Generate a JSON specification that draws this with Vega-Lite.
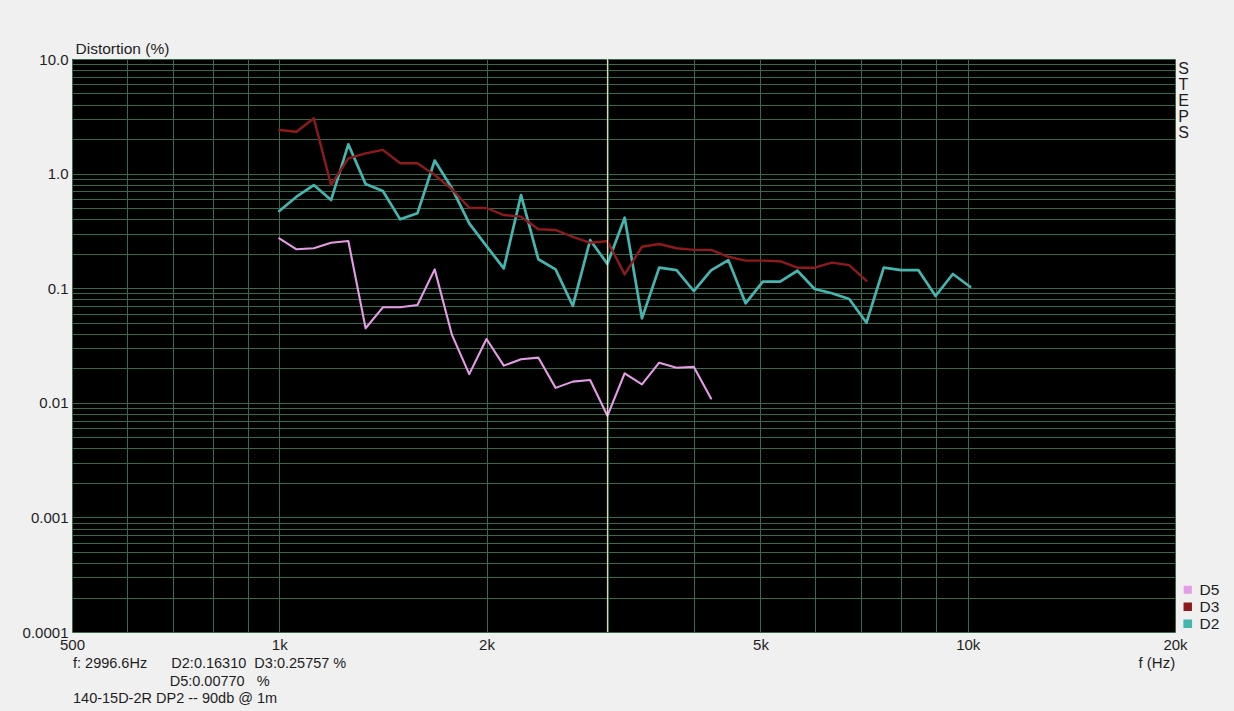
{
  "$schema": "https://vega.github.io/schema/vega-lite/v6.json",
  "width": 1103,
  "height": 573,
  "autosize": "none",
  "padding": {"left": 72, "top": 59, "right": 59, "bottom": 79},
  "background": "#f0f0f0",
  "config": {
    "font": "Liberation Sans",
    "view": {"fill": "#000000", "stroke": null}
  },
  "title": {
    "text": [
      "f: 2996.6Hz\u00a0\u00a0\u00a0\u00a0\u00a0\u00a0D2:0.16310\u00a0\u00a0D3:0.25757 %",
      "\u200b\u00a0\u00a0\u00a0\u00a0\u00a0\u00a0\u00a0\u00a0\u00a0\u00a0\u00a0\u00a0\u00a0\u00a0\u00a0\u00a0\u00a0\u00a0\u00a0\u00a0\u00a0\u00a0\u00a0\u00a0D5:0.00770\u00a0\u00a0\u00a0%",
      "140-15D-2R DP2 -- 90db @ 1m"
    ],
    "orient": "bottom",
    "anchor": "start",
    "frame": "group",
    "font": "Liberation Sans",
    "fontSize": 14.5,
    "fontWeight": "normal",
    "color": "#1e1e1e",
    "lineHeight": 17.5,
    "baseline": "alphabetic",
    "offset": 0,
    "dx": 1,
    "dy": -2
  },
  "layer": [
    {
      "data": {
        "values": [
          {"f": 1000, "d": 0.472, "s": "D2"}, {"f": 1059.5, "d": 0.629, "s": "D2"}, {"f": 1122.5, "d": 0.795, "s": "D2"},
          {"f": 1189.2, "d": 0.588, "s": "D2"}, {"f": 1259.9, "d": 1.8, "s": "D2"}, {"f": 1334.8, "d": 0.811, "s": "D2"},
          {"f": 1414.2, "d": 0.705, "s": "D2"}, {"f": 1498.3, "d": 0.399, "s": "D2"}, {"f": 1587.4, "d": 0.45, "s": "D2"},
          {"f": 1681.8, "d": 1.3, "s": "D2"}, {"f": 1781.8, "d": 0.744, "s": "D2"}, {"f": 1887.7, "d": 0.368, "s": "D2"},
          {"f": 2000, "d": 0.233, "s": "D2"}, {"f": 2118.9, "d": 0.149, "s": "D2"}, {"f": 2244.9, "d": 0.65, "s": "D2"},
          {"f": 2378.4, "d": 0.179, "s": "D2"}, {"f": 2519.8, "d": 0.146, "s": "D2"}, {"f": 2669.6, "d": 0.07, "s": "D2"},
          {"f": 2828.4, "d": 0.263, "s": "D2"}, {"f": 2996.6, "d": 0.1631, "s": "D2"}, {"f": 3174.8, "d": 0.412, "s": "D2"},
          {"f": 3363.6, "d": 0.0546, "s": "D2"}, {"f": 3563.6, "d": 0.151, "s": "D2"}, {"f": 3775.6, "d": 0.144, "s": "D2"},
          {"f": 4000, "d": 0.0945, "s": "D2"}, {"f": 4237.9, "d": 0.143, "s": "D2"}, {"f": 4489.8, "d": 0.176, "s": "D2"},
          {"f": 4756.8, "d": 0.0738, "s": "D2"}, {"f": 5039.7, "d": 0.114, "s": "D2"}, {"f": 5339.3, "d": 0.114, "s": "D2"},
          {"f": 5656.9, "d": 0.142, "s": "D2"}, {"f": 5993.2, "d": 0.0984, "s": "D2"}, {"f": 6349.6, "d": 0.0903, "s": "D2"},
          {"f": 6727.2, "d": 0.0805, "s": "D2"}, {"f": 7127.2, "d": 0.05, "s": "D2"}, {"f": 7551.0, "d": 0.151, "s": "D2"},
          {"f": 8000, "d": 0.144, "s": "D2"}, {"f": 8475.8, "d": 0.144, "s": "D2"}, {"f": 8979.7, "d": 0.0855, "s": "D2"},
          {"f": 9513.7, "d": 0.133, "s": "D2"}, {"f": 10079.4, "d": 0.103, "s": "D2"},

          {"f": 1000, "d": 2.4, "s": "D3"}, {"f": 1059.5, "d": 2.32, "s": "D3"}, {"f": 1122.5, "d": 3.04, "s": "D3"},
          {"f": 1189.2, "d": 0.795, "s": "D3"}, {"f": 1259.9, "d": 1.36, "s": "D3"}, {"f": 1334.8, "d": 1.5, "s": "D3"},
          {"f": 1414.2, "d": 1.61, "s": "D3"}, {"f": 1498.3, "d": 1.23, "s": "D3"}, {"f": 1587.4, "d": 1.23, "s": "D3"},
          {"f": 1681.8, "d": 0.972, "s": "D3"}, {"f": 1781.8, "d": 0.73, "s": "D3"}, {"f": 1887.7, "d": 0.504, "s": "D3"},
          {"f": 2000, "d": 0.501, "s": "D3"}, {"f": 2118.9, "d": 0.435, "s": "D3"}, {"f": 2244.9, "d": 0.421, "s": "D3"},
          {"f": 2378.4, "d": 0.327, "s": "D3"}, {"f": 2519.8, "d": 0.322, "s": "D3"}, {"f": 2669.6, "d": 0.281, "s": "D3"},
          {"f": 2828.4, "d": 0.249, "s": "D3"}, {"f": 2996.6, "d": 0.25757, "s": "D3"}, {"f": 3174.8, "d": 0.132, "s": "D3"},
          {"f": 3363.6, "d": 0.23, "s": "D3"}, {"f": 3563.6, "d": 0.243, "s": "D3"}, {"f": 3775.6, "d": 0.223, "s": "D3"},
          {"f": 4000, "d": 0.216, "s": "D3"}, {"f": 4237.9, "d": 0.216, "s": "D3"}, {"f": 4489.8, "d": 0.188, "s": "D3"},
          {"f": 4756.8, "d": 0.174, "s": "D3"}, {"f": 5039.7, "d": 0.174, "s": "D3"}, {"f": 5339.3, "d": 0.172, "s": "D3"},
          {"f": 5656.9, "d": 0.151, "s": "D3"}, {"f": 5993.2, "d": 0.151, "s": "D3"}, {"f": 6349.6, "d": 0.167, "s": "D3"},
          {"f": 6727.2, "d": 0.159, "s": "D3"}, {"f": 7127.2, "d": 0.116, "s": "D3"},

          {"f": 1000, "d": 0.2725, "s": "D5"}, {"f": 1059.5, "d": 0.2185, "s": "D5"}, {"f": 1122.5, "d": 0.223, "s": "D5"},
          {"f": 1189.2, "d": 0.249, "s": "D5"}, {"f": 1259.9, "d": 0.258, "s": "D5"}, {"f": 1334.8, "d": 0.0447, "s": "D5"},
          {"f": 1414.2, "d": 0.0681, "s": "D5"}, {"f": 1498.3, "d": 0.0681, "s": "D5"}, {"f": 1587.4, "d": 0.0714, "s": "D5"},
          {"f": 1681.8, "d": 0.146, "s": "D5"}, {"f": 1781.8, "d": 0.0391, "s": "D5"}, {"f": 1887.7, "d": 0.0178, "s": "D5"},
          {"f": 2000, "d": 0.036, "s": "D5"}, {"f": 2118.9, "d": 0.0211, "s": "D5"}, {"f": 2244.9, "d": 0.024, "s": "D5"},
          {"f": 2378.4, "d": 0.0248, "s": "D5"}, {"f": 2519.8, "d": 0.0135, "s": "D5"}, {"f": 2669.6, "d": 0.0153, "s": "D5"},
          {"f": 2828.4, "d": 0.0158, "s": "D5"}, {"f": 2996.6, "d": 0.0077, "s": "D5"}, {"f": 3174.8, "d": 0.0181, "s": "D5"},
          {"f": 3363.6, "d": 0.0145, "s": "D5"}, {"f": 3563.6, "d": 0.0224, "s": "D5"}, {"f": 3775.6, "d": 0.0202, "s": "D5"},
          {"f": 4000, "d": 0.0206, "s": "D5"}, {"f": 4237.9, "d": 0.0109, "s": "D5"}
        ]
      },
      "mark": {"type": "line", "strokeJoin": "round", "strokeCap": "round", "clip": true},
      "encoding": {
        "x": {
          "field": "f", "type": "quantitative",
          "scale": {"type": "log", "domain": [500, 20000], "nice": false},
          "axis": {
            "values": [500, 600, 700, 800, 900, 1000, 2000, 3000, 4000, 5000, 6000, 7000, 8000, 9000, 10000, 20000],
            "labelExpr": "datum.value == 500 ? '500' : datum.value == 1000 ? '1k' : datum.value == 2000 ? '2k' : datum.value == 5000 ? '5k' : datum.value == 10000 ? '10k' : datum.value == 20000 ? '20k' : ''",
            "grid": true, "gridColor": "#356b4a", "gridWidth": 1,
            "ticks": false, "domain": false,
            "labelFontSize": 15, "labelColor": "#1e1e1e", "labelPadding": 5,
            "labelOverlap": false, "labelFlush": false, "labelBound": false,
            "title": "f (Hz)", "titleFontSize": 15, "titleFontWeight": "normal", "titleColor": "#1e1e1e",
            "titleX": 1066, "titleY": 35, "titleAlign": "left", "titleBaseline": "alphabetic"
          }
        },
        "y": {
          "field": "d", "type": "quantitative",
          "scale": {"type": "log", "domain": [0.0001, 10], "nice": false},
          "axis": {
            "values": [0.0001, 0.0002, 0.0003, 0.0004, 0.0005, 0.0006, 0.0007, 0.0008, 0.0009,
                       0.001, 0.002, 0.003, 0.004, 0.005, 0.006, 0.007, 0.008, 0.009,
                       0.01, 0.02, 0.03, 0.04, 0.05, 0.06, 0.07, 0.08, 0.09,
                       0.1, 0.2, 0.3, 0.4, 0.5, 0.6, 0.7, 0.8, 0.9,
                       1, 2, 3, 4, 5, 6, 7, 8, 9, 10],
            "labelExpr": "datum.value == 10 ? '10.0' : datum.value == 1 ? '1.0' : datum.value == 0.1 ? '0.1' : datum.value == 0.01 ? '0.01' : datum.value == 0.001 ? '0.001' : datum.value == 0.0001 ? '0.0001' : ''",
            "grid": true, "gridColor": "#356b4a", "gridWidth": 1,
            "ticks": false, "domain": false,
            "labelFontSize": 15, "labelColor": "#1e1e1e", "labelPadding": 4,
            "labelOverlap": false, "labelFlush": false, "labelBound": false,
            "title": "Distortion (%)", "titleFontSize": 15.5, "titleFontWeight": "normal", "titleColor": "#1e1e1e",
            "titleAngle": 0, "titleX": 3, "titleY": -6, "titleAlign": "left", "titleBaseline": "alphabetic"
          }
        },
        "color": {
          "field": "s", "type": "nominal",
          "scale": {"domain": ["D5", "D3", "D2"], "range": ["#e59be5", "#8f1a1c", "#45b5b0"]},
          "legend": {
            "orient": "none", "legendX": 1108, "legendY": 523, "title": null,
            "symbolType": "square", "symbolSize": 36, "padding": 0, "rowPadding": -1.5,
            "labelFontSize": 15.5, "labelColor": "#1e1e1e", "labelOffset": 4,
            "encode": {"symbols": {"update": {"fill": {"scale": "color", "field": "value"}, "stroke": {"value": "transparent"}, "strokeWidth": {"value": 0}}}}
          }
        },
        "strokeWidth": {
          "field": "s", "type": "nominal",
          "scale": {"domain": ["D5", "D3", "D2"], "range": [2.1, 2.7, 2.1]},
          "legend": null
        }
      }
    },
    {
      "data": {"values": [{"cursor": 2996.6, "lo": 0.0001, "hi": 10}]},
      "mark": {"type": "rule", "color": "#f3eec6", "strokeWidth": 1},
      "encoding": {
        "x": {"field": "cursor", "type": "quantitative"},
        "y": {
          "field": "lo", "type": "quantitative",
          "scale": {"type": "log", "domain": [0.0001, 10], "nice": false},
          "axis": {
            "orient": "right", "labels": false, "ticks": false, "domain": false, "grid": false,
            "title": ["S", "T", "E", "P", "S"], "titleAngle": 0, "titleX": 8, "titleY": 14.5,
            "titleAlign": "center", "titleBaseline": "alphabetic", "titleFontSize": 16,
            "titleLineHeight": 16, "titleFontWeight": "normal", "titleColor": "#1e1e1e"
          }
        },
        "y2": {"field": "hi"}
      }
    }
  ],
  "resolve": {"scale": {"y": "independent"}, "axis": {"y": "independent"}}
}
